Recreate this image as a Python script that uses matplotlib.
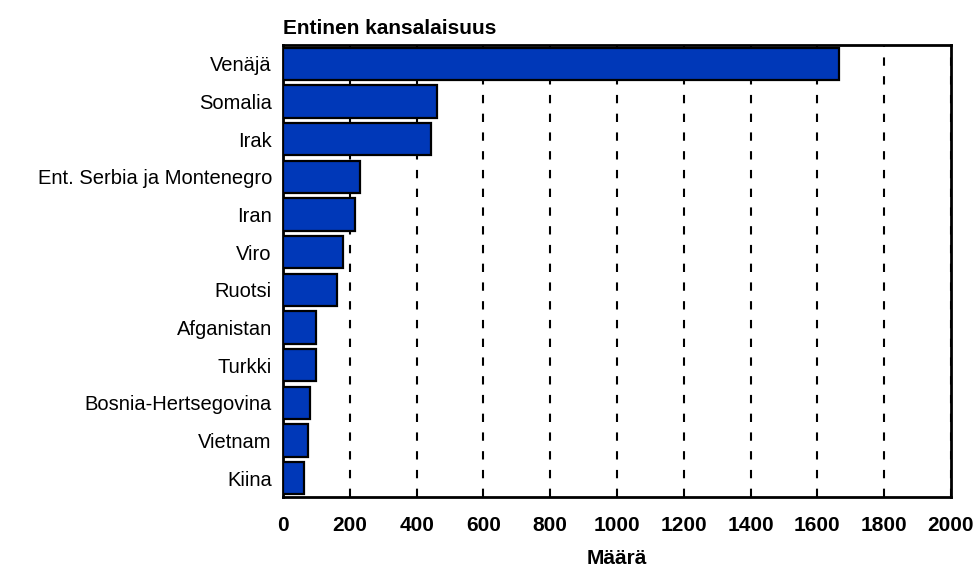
import matplotlib
matplotlib.use("Agg")
import matplotlib.pyplot as plt

categories = ["Venäjä", "Somalia", "Irak", "Ent. Serbia ja Montenegro", "Iran", "Viro",
              "Ruotsi", "Afganistan", "Turkki", "Bosnia-Hertsegovina", "Vietnam", "Kiina"]
values = [1665, 461, 443, 230, 216, 180, 162, 99, 99, 81, 75, 63]
xticks = [0, 200, 400, 600, 800, 1000, 1200, 1400, 1600, 1800, 2000]

plt.rcParams['font.family'] = ['Liberation Sans', 'DejaVu Sans']

fig = plt.figure(figsize=(9.79, 5.70), dpi=100)
ax = fig.add_axes([283/979, 1-497/570, (951-283)/979, (497-45)/570])

y = list(range(len(categories)))
ax.barh(y, values, height=0.85, color="#0038B8", edgecolor="black", linewidth=1.6, zorder=3)
ax.set_ylim(len(categories)-0.5, -0.5)
ax.set_xlim(0, 2000)
ax.set_yticks(y)
ax.set_yticklabels(categories, fontsize=14.5)
ax.set_xticks(xticks)
ax.set_xticklabels([str(t) for t in xticks], fontsize=15, fontweight='bold')
ax.tick_params(axis='y', length=0, pad=8)
ax.tick_params(axis='x', length=0, pad=14)
ax.xaxis.grid(True, linestyle=(0, (4, 5)), color='black', linewidth=1.5, zorder=0)
for s in ax.spines.values():
    s.set_linewidth(2)
    s.set_color('black')
ax.set_xlabel("Määrä", fontsize=15, fontweight='bold', labelpad=10)
ax.text(0, 1.015, "Entinen kansalaisuus", transform=ax.transAxes, fontsize=15,
        fontweight='bold', ha='left', va='bottom')

fig.savefig("out.png", dpi=100)
